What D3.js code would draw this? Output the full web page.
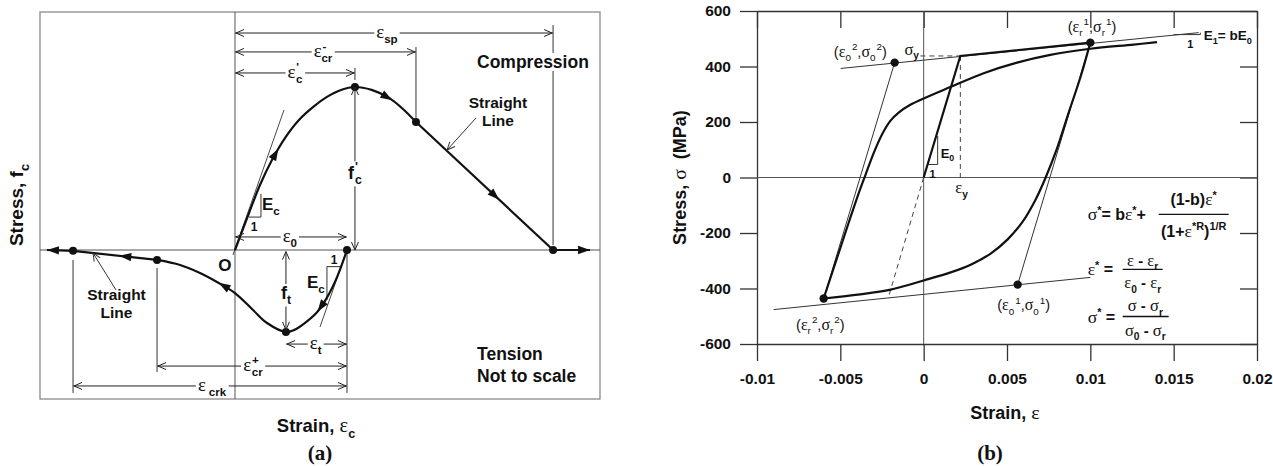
<!DOCTYPE html>
<html>
<head>
<meta charset="utf-8">
<script src="https://cdn.jsdelivr.net/npm/d3@7"></script>
<style>
  body { margin: 0; background: #fff; }
  text { font-family: Arial, "Liberation Sans", sans-serif; fill: #111; }
  .g { font-family: "Liberation Serif", "DejaVu Serif", serif; font-weight: normal; }
  .tag { font-family: "Liberation Serif", "Times New Roman", serif; font-weight: bold; }
</style>
</head>
<body>
<svg id="fig" width="1273" height="466"></svg>
<script>
// ---------- panel (a): concrete model, strain in units of eps0, stress in units of f'c ----------
const compCurve = [[0, 0], [0.125, 0.227], [0.223, 0.399], [0.33, 0.552], [0.446, 0.687], [0.571, 0.798],
  [0.696, 0.877], [0.821, 0.939], [0.946, 0.982], [1.071, 1.0], [1.22, 0.982], [1.375, 0.933],
  [1.49, 0.871], [1.616, 0.785]];
const compSoftening = [[1.616, 0.785], [2.84, 0]];
const compTail = [[2.84, 0], [3.17, 0]];
const tensCurve = [[1.0, 0], [0.911, -0.166], [0.821, -0.292], [0.732, -0.382], [0.62, -0.45],
  [0.53, -0.49], [0.455, -0.503], [0.286, -0.448], [0.161, -0.368], [0, -0.264], [-0.161, -0.196],
  [-0.3125, -0.141], [-0.49, -0.092], [-0.696, -0.061]];
const tensStraight = [[-0.696, -0.061], [-1.446, -0.005]];
const tensTail = [[-1.446, -0.005], [-1.679, 0]];
const pointsA = [[-1.446, -0.005], [-0.696, -0.061], [0.455, -0.503], [1.0, 0], [1.071, 1.0], [1.616, 0.785], [2.84, 0]];
const tangentsA = [[[-0.018, -0.03], [0.4375, 0.859]], [[1.0, 0], [0.759, -0.472]]];
const slopeTriA = [[[0.125, 0.202], [0.232, 0.202], [0.232, 0.344]], [[0.946, -0.102], [0.821, -0.102], [0.821, -0.307]]];
// horizontal dimensions: [from, to, level]
const dimsA = [[0, 2.84, 1.331], [0, 1.616, 1.215], [0, 1.071, 1.086], [0, 1.0, 0.08],
  [0.455, 1.0, -0.577], [-0.696, 1.0, -0.712], [-1.446, 1.0, -0.834]];
const dimLabelX = [1.357, 0.786, 0.536, 0.49, 0.72, 0.16, -0.205];
// extension lines: [x, y0, y1]
const extA = [[2.84, 1.38, 0.03], [1.616, 1.245, 0.81], [1.071, 1.117, 1.043], [-0.696, -0.11, -0.748],
  [-1.446, -0.061, -0.877], [1.0, 0, -0.877]];
// vertical dimensions: [x, from, to, label level]
const vdimsA = [[1.071, 0, 1.0, 0.479], [0.455, -0.01, -0.49, -0.258]];
// curve arrows: [curve, strain]
const arrowsA = [["comp", 0.36], ["comp", 1.36], ["soft", 2.32], ["tens", 0.77], ["tens", -0.1], ["line", -0.98], ["tail", 3.17], ["ltail", -1.679]];

// ---------- panel (b): steel model ----------
const xTicksB = [-0.01, -0.005, 0, 0.005, 0.01, 0.015, 0.02];
const yTicksB = [-600, -400, -200, 0, 200, 400, 600];
const firstLoading = [[0, 0], [0.0022, 438], [0.01, 486]];
const unloadCurve = [[0.01, 486], [0.00942, 364], [0.0087, 234], [0.00798, 101], [0.00732, 0], [0.00672, -79],
  [0.00594, -159], [0.00504, -223], [0.00402, -274], [0.00282, -314], [0.00162, -342], [0, -371],
  [-0.00198, -404], [-0.00396, -422], [-0.006, -436]];
const reloadCurve = [[-0.006, -436], [-0.0055, -345], [-0.005, -254], [-0.0045, -163], [-0.004, -74],
  [-0.0035, 8], [-0.003, 88], [-0.0025, 155], [-0.002, 204], [-0.0015, 234], [-0.0008, 262], [0, 285],
  [0.0016, 326], [0.0036, 376], [0.0056, 414], [0.0076, 442], [0.01, 464], [0.0126, 479], [0.014, 488]];
const upperAsym = [[-0.00498, 393], [0.0165, 522]];
const lowerAsym = [[-0.009, -476], [0.01, -360]];
const elasticThin = [[[-0.00174, 414], [-0.006, -436]], [[0.01, 486], [0.00564, -386]]];
const dashedB = [[[0, 0], [-0.0021, -429]], [[0.0022, 438], [0.0022, 0]], [[-0.0002, 438], [0.0022, 438]]];
const pointsB = [[-0.00174, 414], [0.01, 486], [0.00564, -386], [-0.006, -436]];
const slopeE0 = [[0.00024, 47], [0.00084, 47], [0.00084, 150]];
const slopeE1 = [[0.015, 515], [0.0166, 515], [0.0166, 522]];

const svg = d3.select("#fig");
svg.append("rect").attr("width", 1273).attr("height", 466).attr("fill", "#fff");

// rich text: segs = [text, "sub"|"sup"|"", "g" for greek, dx]
function rich(g, x, y, segs, o = {}) {
  const size = o.size || 14;
  const t = g.append("text").attr("x", x).attr("y", y)
    .attr("font-size", size).attr("font-weight", o.weight || "bold")
    .attr("text-anchor", o.anchor || "start");
  let cur = 0;
  segs.forEach(([txt, pos = "", fam = "", dx = 0]) => {
    const off = pos === "sub" ? size * 0.3 : pos === "sup" ? -size * 0.42 : 0;
    const ts = t.append("tspan").text(txt).attr("dy", off - cur);
    let fs = pos ? size * 0.68 : size;
    if (fam === "g") { ts.attr("class", "g"); if (!pos) fs = size * 1.1; }
    ts.attr("font-size", fs);
    if (dx) ts.attr("dx", dx);
    cur = off;
  });
  if (o.rotate) t.attr("transform", `rotate(${o.rotate},${x},${y})`);
  if (o.bg) {
    const b = t.node().getBBox();
    g.insert("rect", () => t.node()).attr("x", b.x - 2).attr("y", b.y + 1)
      .attr("width", b.width + 4).attr("height", b.height - 2).attr("fill", "#fff");
  }
  return t;
}
function chevron(g, x, y, ang, col = "#222") {
  g.append("path").attr("d", "M-8,-3.5L0,0L-8,3.5").attr("fill", "none")
    .attr("stroke", col).attr("stroke-width", 1)
    .attr("transform", `translate(${x},${y}) rotate(${ang})`);
}
function headAt(g, node, len) {
  const a = node.getPointAtLength(Math.max(0, len - 6));
  const b = node.getPointAtLength(len + 6);
  const ang = Math.atan2(b.y - a.y, b.x - a.x) * 180 / Math.PI;
  g.append("path").attr("d", "M0,0L-12,-4.2L-12,4.2Z").attr("fill", "#111")
    .attr("transform", `translate(${b.x},${b.y}) rotate(${ang})`);
}
function lengthAtX(node, px) {
  const L = node.getTotalLength();
  const inc = node.getPointAtLength(L).x > node.getPointAtLength(0).x;
  let lo = 0, hi = L;
  for (let i = 0; i < 40; i++) {
    const mid = (lo + hi) / 2;
    if ((node.getPointAtLength(mid).x < px) === inc) lo = mid; else hi = mid;
  }
  return (lo + hi) / 2;
}

// ================= panel (a) =================
const xa = d3.scaleLinear().domain([-1.741, 3.259]).range([40, 600]);
const ya = d3.scaleLinear().domain([-0.914, 1.46]).range([399, 12]);
const ga = svg.append("g");
const lineA = d3.line().x(d => xa(d[0])).y(d => ya(d[1]));
const smoothA = d3.line().x(d => xa(d[0])).y(d => ya(d[1])).curve(d3.curveCatmullRom.alpha(0.5));

ga.append("rect").attr("x", xa.range()[0]).attr("y", ya.range()[1])
  .attr("width", xa.range()[1] - xa.range()[0]).attr("height", ya.range()[0] - ya.range()[1])
  .attr("fill", "none").attr("stroke", "#8a8a8a").attr("stroke-width", 1.3);
ga.append("line").attr("x1", xa(0)).attr("x2", xa(0)).attr("y1", ya.range()[0]).attr("y2", ya.range()[1])
  .attr("stroke", "#555").attr("stroke-width", 1);
ga.append("line").attr("x1", xa.range()[0]).attr("x2", xa.range()[1]).attr("y1", ya(0)).attr("y2", ya(0))
  .attr("stroke", "#555").attr("stroke-width", 1);

// extension lines
extA.forEach(([x, a, b]) => ga.append("line").attr("x1", xa(x)).attr("x2", xa(x))
  .attr("y1", ya(a)).attr("y2", ya(b)).attr("stroke", "#333").attr("stroke-width", 1));

// tangents and slope triangles
tangentsA.forEach(t => ga.append("path").attr("d", lineA(t)).attr("fill", "none").attr("stroke", "#333").attr("stroke-width", 0.9));
slopeTriA.forEach(t => ga.append("path").attr("d", lineA(t)).attr("fill", "none").attr("stroke", "#333").attr("stroke-width", 1));

// curves
const curvesA = {};
[["comp", compCurve, smoothA], ["soft", compSoftening, lineA], ["tail", compTail, lineA],
 ["tens", tensCurve, smoothA], ["line", tensStraight, lineA], ["ltail", tensTail, lineA]].forEach(([k, d, gen]) => {
  curvesA[k] = ga.append("path").attr("d", gen(d)).attr("fill", "none")
    .attr("stroke", "#111").attr("stroke-width", 2.2).node();
});
arrowsA.forEach(([k, x]) => {
  const node = curvesA[k];
  let l = lengthAtX(node, xa(x));
  if (k === "tail" || k === "ltail") l = node.getTotalLength() - 6;
  headAt(ga, node, l);
});
ga.selectAll("circle.pa").data(pointsA).join("circle").attr("class", "pa")
  .attr("cx", d => xa(d[0])).attr("cy", d => ya(d[1])).attr("r", 4).attr("fill", "#111");

// horizontal dimensions
const dimSegs = [
  [["ε", "", "g"], ["sp", "sub"]],
  [["ε", "", "g"], ["-", "sup", "", 1], ["cr", "sub", "", -5]],
  [["ε", "", "g"], ["'", "sup", "", 1], ["c", "sub", "", -3]],
  [["ε", "", "g"], ["0", "sub"]],
  [["ε", "", "g"], ["t", "sub"]],
  [["ε", "", "g"], ["+", "sup", "", 1], ["cr", "sub", "", -7]],
  [["ε", "", "g"], ["crk", "sub", "", 3]]
];
dimsA.forEach(([a, b, lev], i) => {
  const y = ya(lev);
  ga.append("line").attr("x1", xa(a)).attr("x2", xa(b)).attr("y1", y).attr("y2", y)
    .attr("stroke", "#222").attr("stroke-width", 1);
  chevron(ga, xa(a) + 1, y, 180);
  chevron(ga, xa(b) - 1, y, 0);
  rich(ga, xa(dimLabelX[i]), y + 5, dimSegs[i], { size: 17, anchor: "middle", bg: true });
});
// vertical dimensions
const vSegs = [[["f"], ["'", "sup", "", 1], ["c", "sub", "", -3]], [["f"], ["t", "sub"]]];
vdimsA.forEach(([x, a, b, lev], i) => {
  ga.append("line").attr("x1", xa(x)).attr("x2", xa(x)).attr("y1", ya(a)).attr("y2", ya(b))
    .attr("stroke", "#222").attr("stroke-width", 1);
  chevron(ga, xa(x), ya(a), ya(a) < ya(b) ? -90 : 90);
  chevron(ga, xa(x), ya(b), ya(b) < ya(a) ? -90 : 90);
  rich(ga, xa(x), ya(lev) + 7, vSegs[i], { size: 18, anchor: "middle", bg: true });
});

// slope labels
rich(ga, xa(0.241), ya(0.245), [["E"], ["c", "sub"]], { size: 17 });
rich(ga, xa(0.17), ya(0.117), [["1"]], { size: 12, anchor: "middle" });
rich(ga, xa(0.643), ya(-0.233), [["E"], ["c", "sub"]], { size: 17 });
rich(ga, xa(0.884), ya(-0.086), [["1"]], { size: 12, anchor: "middle" });
rich(ga, xa(0) - 10, ya(0) + 21, [["O"]], { size: 17, anchor: "middle" });

// straight line leaders
[[[-1.0625, -0.245], [-1.268, -0.018]], [[2.152, 0.81], [1.893, 0.613]]].forEach(([s, e]) => {
  ga.append("line").attr("x1", xa(s[0])).attr("y1", ya(s[1])).attr("x2", xa(e[0])).attr("y2", ya(e[1]))
    .attr("stroke", "#333").attr("stroke-width", 1);
  const ang = Math.atan2(ya(e[1]) - ya(s[1]), xa(e[0]) - xa(s[0])) * 180 / Math.PI;
  chevron(ga, xa(e[0]), ya(e[1]), ang, "#333");
});
rich(ga, xa(-1.058), ya(-0.305), [["Straight"]], { size: 15.5, anchor: "middle" });
rich(ga, xa(-1.058), ya(-0.415), [["Line"]], { size: 15.5, anchor: "middle" });
rich(ga, xa(2.348), ya(0.87), [["Straight"]], { size: 15.5, anchor: "middle" });
rich(ga, xa(2.348), ya(0.76), [["Line"]], { size: 15.5, anchor: "middle" });

rich(ga, xa(2.161), ya(1.117), [["Compression"]], { size: 17.5, bg: true });
rich(ga, xa(2.161), ya(-0.675), [["Tension"]], { size: 17.5 });
rich(ga, xa(2.161), ya(-0.81), [["Not to scale"]], { size: 17.5 });

rich(ga, 23, 205, [["Stress, f"], ["c", "sub"]], { size: 19, anchor: "middle", rotate: -90 });
rich(ga, 316, 432, [["Strain, "], ["ε", "", "g"], ["c", "sub"]], { size: 18.5, anchor: "middle" });
ga.append("text").attr("class", "tag").attr("x", 320).attr("y", 460).attr("text-anchor", "middle")
  .attr("font-size", 21).text("(a)");

// ================= panel (b) =================
const xb = d3.scaleLinear().domain([-0.01, 0.02]).range([757, 1257]);
const yb = d3.scaleLinear().domain([-600, 600]).range([344, 11]);
const gb = svg.append("g");
const lineB = d3.line().x(d => xb(d[0])).y(d => yb(d[1]));
const smoothB = d3.line().x(d => xb(d[0])).y(d => yb(d[1])).curve(d3.curveCatmullRom.alpha(0.5));
const styleAxis = g => {
  g.selectAll("path,line").attr("stroke", "#333").attr("stroke-width", 1.3);
  g.selectAll("text").attr("font-size", 15.5).attr("font-weight", "bold").attr("fill", "#111");
};
gb.append("g").attr("transform", `translate(0,${yb(-600)})`)
  .call(d3.axisBottom(xb).tickValues(xTicksB).tickSize(17).tickSizeOuter(0).tickPadding(12).tickFormat(d => String(d)))
  .call(styleAxis);
gb.append("g").attr("transform", `translate(${xb(-0.01)},0)`)
  .call(d3.axisLeft(yb).tickValues(yTicksB).tickSize(17).tickSizeOuter(0).tickPadding(9).tickFormat(d => String(d)))
  .call(styleAxis);
gb.append("g").attr("transform", `translate(0,${yb(600)})`)
  .call(d3.axisTop(xb).tickValues(xTicksB).tickSize(-17).tickSizeOuter(0).tickFormat(""))
  .call(styleAxis);
gb.append("g").attr("transform", `translate(${xb(0.02)},0)`)
  .call(d3.axisRight(yb).tickValues(yTicksB).tickSize(-17).tickSizeOuter(0).tickFormat(""))
  .call(styleAxis);
// zero lines
gb.append("line").attr("x1", xb(0)).attr("x2", xb(0)).attr("y1", yb(600)).attr("y2", yb(-600))
  .attr("stroke", "#555").attr("stroke-width", 1);
gb.append("line").attr("x1", xb(-0.01)).attr("x2", xb(0.02)).attr("y1", yb(0)).attr("y2", yb(0))
  .attr("stroke", "#555").attr("stroke-width", 1);

// thin guide lines
[upperAsym, lowerAsym, ...elasticThin, slopeE0, slopeE1].forEach(d =>
  gb.append("path").attr("d", lineB(d)).attr("fill", "none").attr("stroke", "#333").attr("stroke-width", 1));
dashedB.forEach(d => gb.append("path").attr("d", lineB(d)).attr("fill", "none")
  .attr("stroke", "#444").attr("stroke-width", 1).attr("stroke-dasharray", "5,4"));

// thick curves
gb.append("path").attr("d", lineB(firstLoading)).attr("fill", "none").attr("stroke", "#111").attr("stroke-width", 2.2);
[unloadCurve, reloadCurve].forEach(d =>
  gb.append("path").attr("d", smoothB(d)).attr("fill", "none").attr("stroke", "#111").attr("stroke-width", 2.2));
gb.selectAll("circle.pb").data(pointsB).join("circle").attr("class", "pb")
  .attr("cx", d => xb(d[0])).attr("cy", d => yb(d[1])).attr("r", 4.2).attr("fill", "#111");

// point labels
const pair = (a, b) => [["("], ["ε", "", "g"], [a, "sub"], [b, "sup", "", 1], [","], ["σ", "", "g"], [a, "sub"], [b, "sup", "", 1], [")"]];
rich(gb, xb(-0.0038), yb(454) + 5, pair("0", "2"), { size: 14.5, anchor: "middle", weight: "normal" });
rich(gb, xb(0.0101), yb(544) + 5, pair("r", "1"), { size: 14.5, anchor: "middle", weight: "normal" });
rich(gb, xb(0.006), yb(-461) + 5, pair("0", "1"), { size: 14.5, anchor: "middle", weight: "normal" });
rich(gb, xb(-0.0062), yb(-530) + 5, pair("r", "2"), { size: 14.5, anchor: "middle", weight: "normal" });
rich(gb, xb(-0.00072), yb(461) + 5, [["σ", "", "g"], ["y", "sub"]], { size: 15, anchor: "middle" });
rich(gb, xb(0.00228), yb(-43) + 4, [["ε", "", "g"], ["y", "sub"]], { size: 15, anchor: "middle" });
rich(gb, xb(0.00102), yb(90) + 5, [["E"], ["0", "sub"]], { size: 13 });
rich(gb, xb(0.00054), yb(18) + 5, [["1"]], { size: 11, anchor: "middle" });
rich(gb, xb(0.0168), yb(512) + 5, [["E"], ["1", "sub"], ["= bE"], ["0", "sub"]], { size: 13.5 });
rich(gb, xb(0.016), yb(483) + 5, [["1"]], { size: 11, anchor: "middle" });

// formulas
function bar(x0, x1, s) {
  gb.append("line").attr("x1", xb(x0)).attr("x2", xb(x1)).attr("y1", yb(s)).attr("y2", yb(s))
    .attr("stroke", "#111").attr("stroke-width", 1.4);
}
rich(gb, xb(0.00984), yb(-133) + 6, [["σ", "", "g"], ["*", "sup"], ["= b"], ["ε", "", "g"], ["*", "sup"], ["+"]], { size: 16 });
bar(0.0141, 0.0183, -133);
rich(gb, xb(0.0162), yb(-79) + 6, [["(1-b)"], ["ε", "", "g"], ["*", "sup"]], { size: 16, anchor: "middle" });
rich(gb, xb(0.0162), yb(-191) + 6, [["(1+"], ["ε", "", "g"], ["*R", "sup"], [")"], ["1/R", "sup"]], { size: 16, anchor: "middle" });

rich(gb, xb(0.00984), yb(-331) + 6, [["ε", "", "g"], ["*", "sup"], [" ="]], { size: 16 });
bar(0.01194, 0.01434, -331);
rich(gb, xb(0.01314), yb(-296) + 6, [["ε", "", "g"], [" - "], ["ε", "", "g"], ["r", "sub"]], { size: 15, anchor: "middle" });
rich(gb, xb(0.01314), yb(-378) + 6, [["ε", "", "g"], ["0", "sub"], [" - "], ["ε", "", "g"], ["r", "sub"]], { size: 15, anchor: "middle" });

rich(gb, xb(0.00984), yb(-501) + 6, [["σ", "", "g"], ["*", "sup"], [" ="]], { size: 16 });
bar(0.01194, 0.0147, -501);
rich(gb, xb(0.0133), yb(-461) + 6, [["σ", "", "g"], [" - "], ["σ", "", "g"], ["r", "sub"]], { size: 15, anchor: "middle" });
rich(gb, xb(0.0133), yb(-548) + 6, [["σ", "", "g"], ["0", "sub"], [" - "], ["σ", "", "g"], ["r", "sub"]], { size: 15, anchor: "middle" });

// axis titles
rich(gb, 686, yb(0), [["Stress, "], ["σ", "", "g"], ["\u00a0 (MPa)"]], { size: 18, anchor: "middle", rotate: -90 });
rich(gb, 1005, 419, [["Strain, "], ["ε", "", "g"]], { size: 18, anchor: "middle" });
gb.append("text").attr("class", "tag").attr("x", 990).attr("y", 460).attr("text-anchor", "middle")
  .attr("font-size", 21).text("(b)");
</script>
</body>
</html>
